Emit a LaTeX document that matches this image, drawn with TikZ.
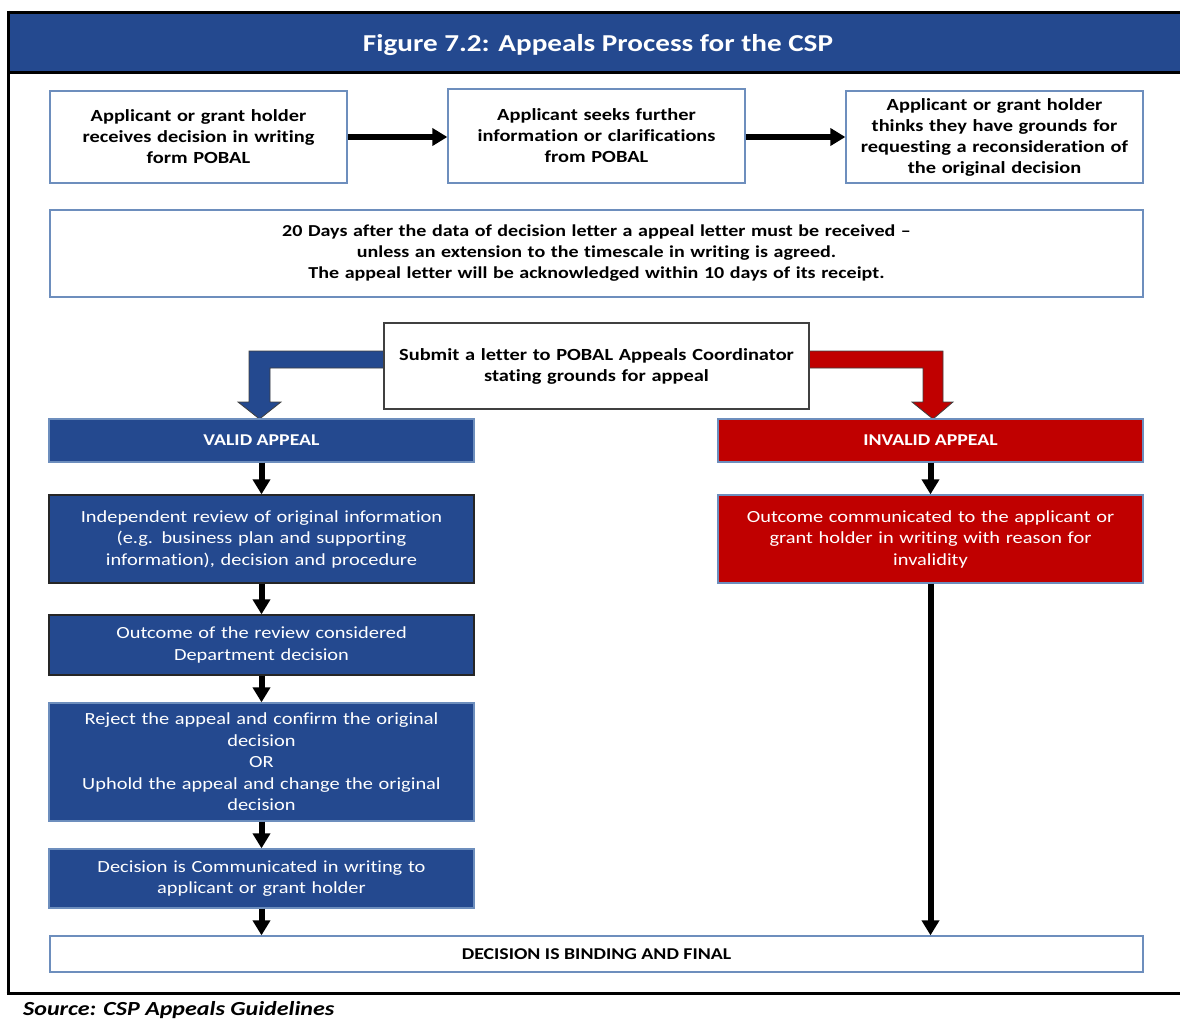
\documentclass[tikz,border=0pt]{standalone}
\usepackage{fontspec}
\setmainfont{Carlito}[FakeStretch=1.2, Ligatures=NoCommon]
\usetikzlibrary{arrows.meta,calc}
\definecolor{navy}{RGB}{36,73,143}
\definecolor{edgeblue}{RGB}{109,142,189}
\definecolor{crimson}{RGB}{192,0,0}
\definecolor{darkedge}{RGB}{64,64,64}
\tikzset{
  base/.style={align=center, inner sep=0pt, line width=1.3pt},
  whitebox/.style={base, draw=edgeblue, fill=white, text=black,
    font=\bfseries\fontsize{17}{21}\selectfont},
  bluebox/.style={base, draw=edgeblue, fill=navy, text=white,
    font=\fontsize{17}{21.5}\selectfont},
  redbox/.style={base, draw=edgeblue, fill=crimson, text=white,
    font=\fontsize{17}{21.5}\selectfont},
  headbox/.style={font=\bfseries\fontsize{16.5}{20}\selectfont},
  flow/.style={line width=6pt, -{Triangle[width=17pt,length=15pt]}},
  bent/.style={line width=0.8pt, draw=black!75},
}
\begin{document}
\begin{tikzpicture}[x=1pt,y=-1pt]
\useasboundingbox (0,0) rectangle (1180,1018);

% title bar and frame
\fill[navy] (8,12) rectangle (1180,72);
\draw[line width=3pt] (8,12) -- (1180,12);
\draw[line width=3pt] (8,72) -- (1180,72);
\draw[line width=3pt] (8,10.5) -- (8,994.5);
\draw[line width=3pt] (6.5,993) -- (1180,993);
\node[text=white, font=\bfseries\fontsize{24.3}{28}\selectfont] (title) at (598,45) {Figure 7.2: Appeals Process for the CSP};

% top row
\node[whitebox, minimum width=297pt, minimum height=92pt, text width=285pt] (b1) at (198.5,137)
  {Applicant or grant holder\\receives decision in writing\\form POBAL};
\node[whitebox, minimum width=297pt, minimum height=94pt, text width=285pt] (b2) at (596.5,136)
  {Applicant seeks further\\information or clarifications\\from POBAL};
\node[whitebox, minimum width=297pt, minimum height=92pt, text width=292pt] (b3) at (994.5,137)
  {Applicant or grant holder\\thinks they have grounds for\\requesting a reconsideration of\\the original decision};
\draw[flow] (b1.east |- 0,137) -- (b2.west |- 0,137);
\draw[flow] (b2.east |- 0,137) -- (b3.west |- 0,137);

\node[whitebox, minimum width=1093pt, minimum height=87pt, text width=1080pt, font=\bfseries\fontsize{16.7}{21}\selectfont] (days) at (596.5,253.5)
  {20 Days after the data of decision letter a appeal letter must be received --\\unless an extension to the timescale in writing is agreed.\\The appeal letter will be acknowledged within 10 days of its receipt.};

% bent arrows out of the submission box
\filldraw[bent, fill=navy] (384,351) -- (249,351) -- (249,402) -- (238,402) -- (259.5,419)
  -- (281,402) -- (270,402) -- (270,368) -- (384,368);
\filldraw[bent, fill=crimson] (809,351) -- (943,351) -- (943,402) -- (953,402) -- (933,419)
  -- (912,402) -- (923,402) -- (923,368) -- (809,368);
\node[whitebox, draw=darkedge, minimum width=425pt, minimum height=86pt, text width=415pt] (submit) at (596.5,366)
  {Submit a letter to POBAL Appeals Coordinator\\stating grounds for appeal};

% valid branch
\node[bluebox, headbox, minimum width=425pt, minimum height=43pt] (valid) at (261.5,440.5) {VALID APPEAL};
\node[bluebox, draw=black!85, minimum width=425pt, minimum height=88pt, text width=415pt] (review) at (261.5,539)
  {Independent review of original information\\(e.g. business plan and supporting\\information), decision and procedure};
\node[bluebox, draw=black!85, minimum width=425pt, minimum height=60pt, text width=415pt] (outcome) at (261.5,645)
  {Outcome of the review considered\\Department decision};
\node[bluebox, minimum width=425pt, minimum height=118pt, text width=415pt] (reject) at (261.5,762)
  {Reject the appeal and confirm the original\\decision\\OR\\Uphold the appeal and change the original\\decision};
\node[bluebox, minimum width=425pt, minimum height=59pt, text width=415pt] (decision) at (261.5,878.5)
  {Decision is Communicated in writing to\\applicant or grant holder};

% invalid branch
\node[redbox, headbox, minimum width=425pt, minimum height=43pt] (invalid) at (930.5,440.5) {INVALID APPEAL};
\node[redbox, minimum width=425pt, minimum height=88pt, text width=415pt] (outinv) at (930.5,539)
  {Outcome communicated to the applicant or\\grant holder in writing with reason for\\invalidity};

% final decision
\node[whitebox, headbox, minimum width=1093pt, minimum height=36pt] (final) at (596.5,954)
  {DECISION IS BINDING AND FINAL};

\draw[flow] (valid.south) -- (review.north);
\draw[flow] (review.south) -- (outcome.north);
\draw[flow] (outcome.south) -- (reject.north);
\draw[flow] (reject.south) -- (decision.north);
\draw[flow] (decision.south) -- (decision.south |- final.north);
\draw[flow] (invalid.south) -- (outinv.north);
\draw[flow] (outinv.south) -- (outinv.south |- final.north);

\node[anchor=base west, inner sep=0pt, font=\bfseries\itshape\fontsize{20}{24}\selectfont] (source) at (23,1015)
  {Source: CSP Appeals Guidelines};
\end{tikzpicture}
\end{document}
